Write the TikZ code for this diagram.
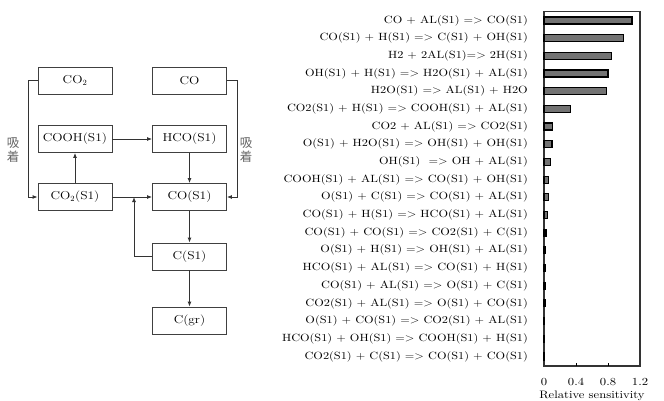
\documentclass[tikz,border=0pt]{standalone}
\usepackage{fontspec}
\setmainfont{Latin Modern Roman}[FakeStretch=1.17]
\newfontfamily\cjk{Noto Sans CJK JP}
\usetikzlibrary{arrows.meta}
\begin{document}
\begin{tikzpicture}[x=1pt,y=-1pt,
  box/.style={draw=black!75,line width=0.8pt,minimum width=74pt,minimum height=27pt,inner sep=0pt,font=\fontsize{11.5}{13}\selectfont},
  conn/.style={line width=0.9pt,black!80,-{Latex[length=5pt,width=4pt]}},
  rlab/.style={anchor=east,inner sep=0pt,font=\fontsize{10.5}{12}\selectfont},
  bar/.style={draw=black,line width=1.2pt,fill=black!55},
  tick/.style={font=\fontsize{10.8}{12}\selectfont,inner sep=0pt},
  kj/.style={font=\cjk\fontsize{12.5}{14}\selectfont,text=black!60,inner sep=0pt,align=center}]
\fill[white] (0,0) rectangle (664,401);
\useasboundingbox (0,0) rectangle (664,401);
% left diagram
\node[box] (co2) at (75,80.5) {CO$_2$};
\node[box] (co) at (189.5,80.5) {CO};
\node[box] (cooh) at (75,139) {COOH(S1)};
\node[box] (hco) at (189.5,139) {HCO(S1)};
\node[box] (co2s) at (75,197) {CO$_2$(S1)};
\node[box] (cos) at (189.5,197) {CO(S1)};
\node[box] (cs) at (189.5,256.5) {C(S1)};
\node[box] (cgr) at (189.5,320.5) {C(gr)};
\coordinate (l1) at (28,80.5);
\coordinate (l2) at (28,197);
\coordinate (r1) at (237,80.5);
\coordinate (r2) at (237,197);
\coordinate (m1) at (134,256.5);
\coordinate (m2) at (134,197);
\draw[conn] (co2.west) -- (l1) -- (l2) -- (co2s.west);
\draw[conn] (co.east) -- (r1) -- (r2) -- (cos.east);
\draw[conn] (co2s.north) -- (cooh.south);
\draw[conn] (cooh.east) -- (hco.west);
\draw[conn] (hco.south) -- (cos.north);
\draw[conn] (co2s.east) -- (cos.west);
\draw[conn] (cs.west) -- (m1) -- (m2);
\draw[conn] (cos.south) -- (cs.north);
\draw[conn] (cs.south) -- (cgr.north);
\node[kj] (kl) at (13,150) {吸\\[0pt]着};
\node[kj] (kr) at (246,150) {吸\\[0pt]着};
% bar chart
\draw[line width=1.1pt,black!80] (544,11.5) rectangle (640,366);
\foreach \v/\t in {0/0,0.4/0.4,0.8/0.8,1.2/1.2}{
  \node[tick] at (544+80*\v,382) {\t};
}
\foreach \v in {0.4,0.8}{\draw[line width=0.9pt] (544+80*\v,366) -- (544+80*\v,362.5);}
\node[tick] (xl) at (592,395.5) {Relative sensitivity};
\foreach \i/\v/\t in {
 0/1.10/{CO + AL(S1) => CO(S1)},
 1/0.99/{CO(S1) + H(S1) => C(S1) + OH(S1)},
 2/0.84/{H2 + 2AL(S1)=> 2H(S1)\ },
 3/0.80/{OH(S1) + H(S1) => H2O(S1) + AL(S1)},
 4/0.78/{H2O(S1) => AL(S1) + H2O},
 5/0.33/{CO2(S1) + H(S1) => COOH(S1) + AL(S1)},
 6/0.11/{CO2 + AL(S1) => CO2(S1)},
 7/0.10/{O(S1) + H2O(S1) => OH(S1) + OH(S1)},
 8/0.08/{OH(S1) \ => OH + AL(S1)},
 9/0.06/{COOH(S1) + AL(S1) => CO(S1) + OH(S1)},
 10/0.06/{O(S1) + C(S1) => CO(S1) + AL(S1)},
 11/0.04/{CO(S1) + H(S1) => HCO(S1) + AL(S1)},
 12/0.025/{CO(S1) + CO(S1) => CO2(S1) + C(S1)},
 13/0.02/{O(S1) + H(S1) => OH(S1) + AL(S1)},
 14/0.02/{HCO(S1) + AL(S1) => CO(S1) + H(S1)},
 15/0.015/{CO(S1) + AL(S1) => O(S1) + C(S1)},
 16/0.015/{CO2(S1) + AL(S1) => O(S1) + CO(S1)},
 17/0.01/{O(S1) + CO(S1) => CO2(S1) + AL(S1)},
 18/0.01/{HCO(S1) + OH(S1) => COOH(S1) + H(S1)},
 19/0.01/{CO2(S1) + C(S1) => CO(S1) + CO(S1)}}{
  \node[rlab] (lab\i) at (528,20.5+17.68*\i) {\t};
  \draw[bar] (544,17+17.68*\i) rectangle (544+80*\v,24+17.68*\i);
}
\end{tikzpicture}
\end{document}
